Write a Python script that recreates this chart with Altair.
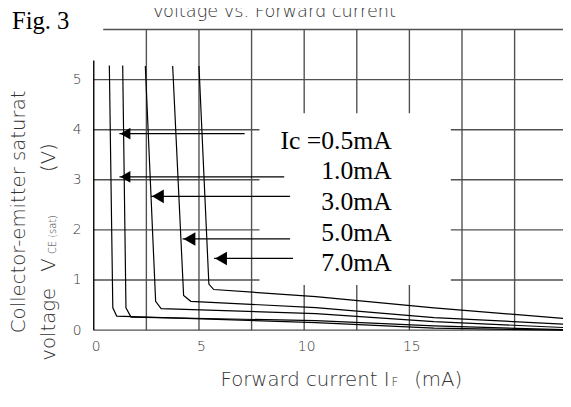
import altair as alt
import pandas as pd

# ---------------- data ----------------
ic_names = ["0.5mA", "1.0mA", "3.0mA", "5.0mA", "7.0mA"]
curve_if = [
    [0.74, 0.905, 1.09, 10.55, 16.17, 22.3],
    [1.375, 1.53, 1.77, 10.55, 16.17, 22.3],
    [2.45, 2.94, 3.2, 10.55, 16.17, 22.3],
    [3.75, 4.27, 4.61, 10.55, 16.17, 22.3],
    [5.0, 5.47, 5.7, 10.55, 16.17, 22.3],
]
curve_vce = [
    [5.28, 0.445, 0.28, 0.15, 0.04, 0.0],
    [5.28, 0.445, 0.26, 0.19, 0.085, 0.01],
    [5.27, 0.575, 0.43, 0.33, 0.17, 0.053],
    [5.27, 0.69, 0.575, 0.45, 0.25, 0.12],
    [5.27, 0.92, 0.81, 0.67, 0.445, 0.235],
]

label_texts = ["Ic =0.5mA", "1.0mA", "3.0mA", "5.0mA", "7.0mA"]
label_vce = [3.62, 3.01, 2.39, 1.77, 1.18]
label_if_right = [14.16, 14.16, 14.16, 14.16, 14.16]

arrow_tip_if = [1.22, 1.22, 2.72, 4.22, 5.72]
arrow_vce = [3.92, 3.06, 2.67, 1.82, 1.43]
arrow_end_if = [7.17, 9.05, 9.33, 9.33, 9.47]

x_ticks = [0, 5, 10, 15]
y_ticks = [0, 1, 2, 3, 4, 5]
grid_if = [2.5, 5, 7.5, 10, 12.5, 15, 17.5, 20]
grid_vce = [1, 2, 3, 4, 5]
x_max = 22.3
y_max = 6
top_line_start = 0.45
y_axis_top = 5.38
blank_if = [7.875, 16.97]
blank_vce = [0.9, 4.33]

title_text = "Voltage vs. Forward current"
fig_text = "Fig. 3"
y_title_1 = "Collector-emitter saturat"
y_title_2 = ["voltage", "V", "CE (sat)", "(V)"]
x_title = ["Forward current I", "F", "(mA)"]

# ---------------- tables ----------------
rows = []
for name, xs_, ys_ in zip(ic_names, curve_if, curve_vce):
    for i, (a, b) in enumerate(zip(xs_, ys_)):
        rows.append({"ic": name, "i": i, "fwd": a, "vce": b})
curves = pd.DataFrame(rows)

arrows = pd.DataFrame({"tip": arrow_tip_if, "vce": arrow_vce, "end": arrow_end_if,
                       "k": list(range(len(arrow_vce)))})
labels = pd.DataFrame({"t": label_texts, "vce": label_vce, "x": label_if_right})

vgrid = pd.DataFrame({"x": grid_if, "y0": [0] * len(grid_if), "y1": [y_max] * len(grid_if)})
hgrid = pd.DataFrame({"y": grid_vce + [0, y_max],
                      "x0": [0] * len(grid_vce) + [0, top_line_start],
                      "x1": [x_max] * (len(grid_vce) + 2)})
yaxis_line = pd.DataFrame({"x": [0], "y0": [0], "y1": [y_axis_top]})
blank = pd.DataFrame({"x0": [blank_if[0]], "x1": [blank_if[1]],
                      "y0": [blank_vce[0]], "y1": [blank_vce[1]]})

xs = alt.Scale(domain=[0, x_max], nice=False, zero=False)
ys = alt.Scale(domain=[0, y_max], nice=False, zero=False)
x_axis = alt.Axis(values=x_ticks, labelAlign="center", labelOffset=2, labelPadding=10,
                  labelBaseline="top", title=None)
y_axis = alt.Axis(values=y_ticks, labelPadding=13, title=None)


def X(f):
    return alt.X(f, type="quantitative", scale=xs, axis=x_axis)


def Y(f):
    return alt.Y(f, type="quantitative", scale=ys, axis=y_axis)


GRID = "#505050"

vlines = alt.Chart(vgrid).mark_rule(color=GRID, strokeWidth=1.4).encode(
    x=X("x"), y=Y("y0"), y2="y1")
hlines = alt.Chart(hgrid).mark_rule(color=GRID, strokeWidth=1.4).encode(
    y=Y("y"), x=X("x0"), x2="x1")
yline = alt.Chart(yaxis_line).mark_rule(color="black", strokeWidth=1.4).encode(
    x=X("x"), y=Y("y0"), y2="y1")
box = alt.Chart(blank).mark_rect(color="white").encode(
    x=X("x0"), x2="x1", y=Y("y0"), y2="y1")

lines = alt.Chart(curves).mark_line(color="black", strokeWidth=1.2).encode(
    x=X("fwd"), y=Y("vce"), detail="ic:N", order="i:Q")

shafts = alt.Chart(arrows).mark_rule(color="black", strokeWidth=1.3).encode(
    x=X("tip"), x2="end", y=Y("vce"))
heads_small = alt.Chart(arrows).transform_filter("datum.k < 2").mark_point(
    shape="triangle-left", filled=True, color="black", size=140, opacity=1).encode(
    x=X("tip"), y=Y("vce"), xOffset=alt.value(6))
heads_big = alt.Chart(arrows).transform_filter("datum.k >= 2").mark_point(
    shape="triangle-left", filled=True, color="black", size=190, opacity=1).encode(
    x=X("tip"), y=Y("vce"), xOffset=alt.value(7))

ic_text = alt.Chart(labels).mark_text(
    font="Liberation Serif", fontSize=26, align="right", baseline="alphabetic",
    color="black").encode(x=X("x"), y=Y("vce"), text="t:N")


def note(s, x, y, size, angle=0, align="left", baseline="alphabetic",
         font="DejaVu Sans", weight=300, color="#333333"):
    return alt.Chart(pd.DataFrame({"t": [s]})).mark_text(
        font=font, fontSize=size, angle=angle, align=align, baseline=baseline,
        fontWeight=weight, color=color).encode(
        text="t:N", x=alt.value(x), y=alt.value(y))


notes = [
    note(title_text, 183, -13, 18, align="center"),
    note(fig_text, -83, 0, 25, font="Liberation Serif", weight="normal", color="black"),
    note(y_title_1, -76, 185, 20, angle=270, align="center", baseline="middle"),
    note(y_title_2[0], -45, 299, 20, angle=270, align="center", baseline="middle"),
    note(y_title_2[1], -45, 239, 20, angle=270, align="center", baseline="middle"),
    note(y_title_2[2], -41, 208, 10, angle=270, align="center", baseline="middle"),
    note(y_title_2[3], -45, 130, 20, angle=270, align="center", baseline="middle"),
    note(x_title[0], 300, 362, 20, align="right"),
    note(x_title[1], 302, 362, 12),
    note(x_title[2], 325, 362, 20),
]

chart = alt.layer(
    vlines, hlines, yline, box, lines, shafts, heads_small, heads_big, ic_text, *notes
).properties(
    width=476, height=305,
    padding={"left": 87, "top": 19, "right": 0, "bottom": 62},
    autosize=alt.AutoSizeParams(type="none"),
).configure_view(stroke=None).configure_axis(
    domain=False, ticks=False, grid=False, labelFont="DejaVu Sans", labelFontSize=14,
    labelColor="#333333", labelFontWeight=300
)

chart.save("out.html", embed_options={"renderer": "svg", "actions": False})
